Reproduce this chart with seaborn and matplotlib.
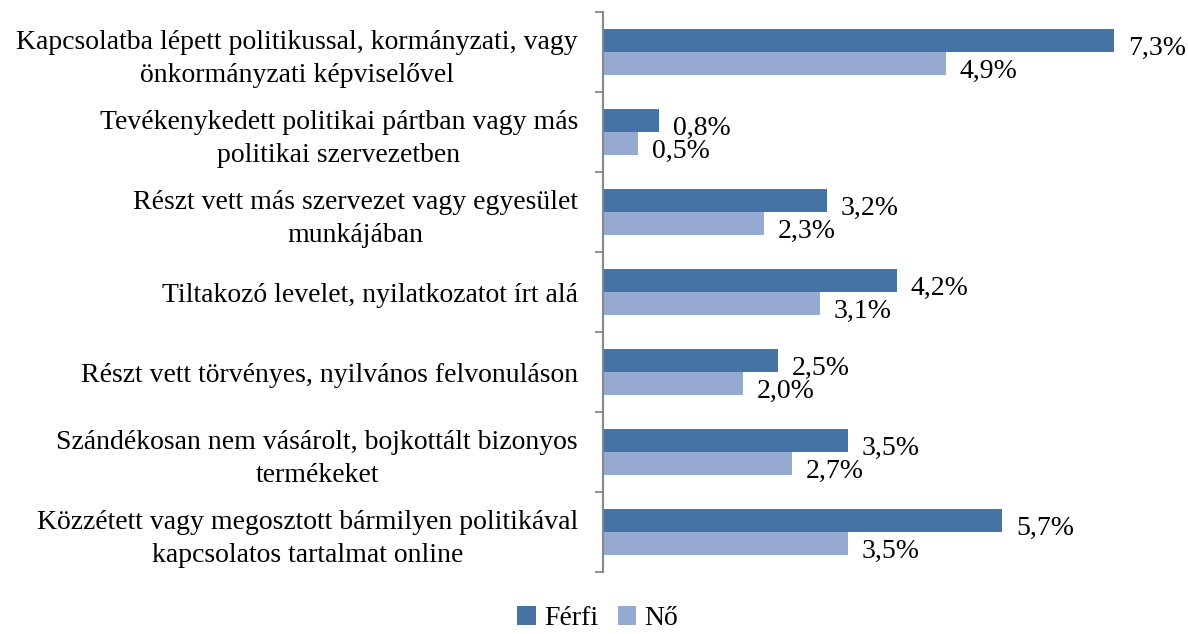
import matplotlib
matplotlib.use("Agg")
import matplotlib.pyplot as plt
import seaborn as sns
import pandas as pd
import numpy as np

categories = [
    "Kapcsolatba lépett politikussal, kormányzati, vagy\nönkormányzati képviselővel",
    "Tevékenykedett politikai pártban vagy más\npolitikai szervezetben",
    "Részt vett más szervezet vagy egyesület\nmunkájában",
    "Tiltakozó levelet, nyilatkozatot írt alá",
    "Részt vett törvényes, nyilvános felvonuláson",
    "Szándékosan nem vásárolt, bojkottált bizonyos\ntermékeket",
    "Közzétett vagy megosztott bármilyen politikával\nkapcsolatos tartalmat online",
]
ferfi = [7.3, 0.8, 3.2, 4.2, 2.5, 3.5, 5.7]
no = [4.9, 0.5, 2.3, 3.1, 2.0, 2.7, 3.5]
series_names = ["Férfi", "Nő"]
colors = ["#4673A6", "#95AAD1"]

df = pd.DataFrame({
    "cat": categories * 2,
    "val": ferfi + no,
    "sex": [series_names[0]] * len(categories) + [series_names[1]] * len(categories),
})

sns.set_theme(style="white")
plt.rcParams["font.family"] = ["Liberation Serif", "DejaVu Serif"]
plt.rcParams["text.color"] = "black"
plt.rcParams["ytick.color"] = "black"
plt.rcParams["ytick.labelcolor"] = "black"

fig = plt.figure(figsize=(11.88, 6.34), dpi=100)
ax = fig.add_axes([0.5076, 0.0978, 0.4714, 0.8832])

sns.barplot(data=df, y="cat", x="val", hue="sex", orient="h",
            palette=colors, width=0.575, gap=0, ax=ax, saturation=1,
            edgecolor="none", linewidth=0)

ax.set_xlim(0, 8)
ax.set_ylim(len(categories) - 0.5, -0.5)
ax.set_xlabel("")
ax.set_ylabel("")
ax.set_xticks([])

for cont in ax.containers:
    labels = [f"{v:.1f}%".replace(".", ",") for v in cont.datavalues]
    texts = ax.bar_label(cont, labels=labels, padding=10, fontsize=20, color="black",
                         family=["Liberation Serif", "DejaVu Serif"])
    # value labels sit slightly below bar centres
    for t in texts:
        ox, oy = t.xyann
        t.xyann = (ox, oy - 5.5)

ax.set_yticks(range(len(categories)))
ax.set_yticklabels(categories, fontsize=20, multialignment="center",
                   linespacing=1.4, color="black")
ax.tick_params(axis="y", which="major", length=0, pad=18)
ax.set_yticks(np.arange(-0.5, len(categories), 1.0), minor=True)
ax.tick_params(axis="y", which="minor", length=6, width=1.3, color="#888888", left=True)

for s in ["top", "right", "bottom"]:
    ax.spines[s].set_visible(False)
ax.spines["left"].set_color("#888888")
ax.spines["left"].set_linewidth(1.5)

handles, labels = ax.get_legend_handles_labels()
ax.get_legend().remove()
fig.legend(handles, labels, loc="lower center", bbox_to_anchor=(0.503, 0.0), ncol=2,
           frameon=False, fontsize=20, handlelength=0.65, handleheight=0.65,
           handletextpad=0.3, columnspacing=0.7, borderpad=0.05, borderaxespad=0.05)

fig.savefig("out.png", dpi=100)
